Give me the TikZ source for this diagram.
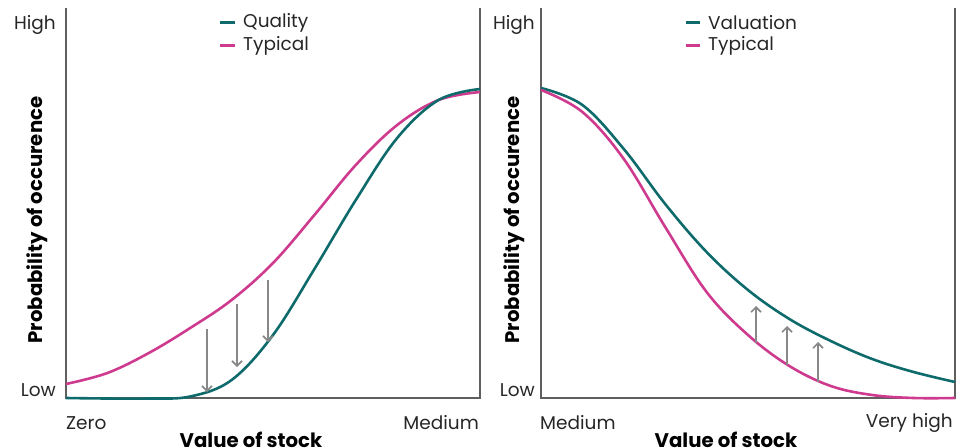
\documentclass[tikz,border=0pt]{standalone}
\usepackage{fontspec}
\setmainfont{Poppins}
\usetikzlibrary{arrows.meta}
\definecolor{teal1}{HTML}{0F6B6B}
\definecolor{mag}{HTML}{CE3A8E}
\definecolor{axisgray}{HTML}{5F5F5F}
\definecolor{arrgray}{HTML}{888888}
\tikzset{
  axisline/.style={draw=axisgray, line width=2.4pt},
  curveq/.style={draw=teal1, line width=2.6pt, line join=round},
  curvet/.style={draw=mag, line width=2.6pt, line join=round},
  shiftarrow/.style={draw=arrgray, line width=1.6pt, -{Straight Barb[length=5pt,width=10pt,line width=1.6pt]}},
  ticklbl/.style={font=\fontsize{18.5}{18.5}\selectfont, text=black!85, inner sep=0pt},
  axlbl/.style={font=\fontsize{19.7}{19.7}\selectfont\bfseries, text=black, inner sep=0pt},
  leglbl/.style={font=\fontsize{18.5}{18.5}\selectfont, text=black!85, inner sep=0pt, anchor=west},
}
\begin{document}
\begin{tikzpicture}[x=1pt,y=-1pt]
\useasboundingbox (0,0) rectangle (966,447);
% ---------- left panel ----------
\draw[axisline] (66,8) -- (66,398) -- (480,398) -- (480,8);
\draw[curvet] plot[smooth, tension=0.6] coordinates {(66,384) (107.4,373) (148.8,353) (190.2,328) (231.6,300) (273,263) (314.4,215) (355.8,165) (397.2,125) (438.6,100) (480,92)};
\draw[curveq] plot[smooth, tension=0.6] coordinates {(66,398) (107.4,398.5) (148.8,398.5) (190.2,396.5) (231.6,380) (273,335) (314.4,269) (355.8,200) (397.2,138) (438.6,100) (480,89)};
\coordinate (la1s) at (207,329); \coordinate (la1e) at (207,392);
\coordinate (la2s) at (237,304); \coordinate (la2e) at (237,367);
\coordinate (la3s) at (268,280); \coordinate (la3e) at (268,342);
\draw[shiftarrow] (la1s) -- (la1e);
\draw[shiftarrow] (la2s) -- (la2e);
\draw[shiftarrow] (la3s) -- (la3e);
\node[ticklbl, anchor=east] (lhigh) at (56,25) {High};
\node[ticklbl, anchor=east] (llow) at (56,390) {Low};
\node[ticklbl, anchor=west] (lzero) at (66,423) {Zero};
\node[ticklbl, anchor=east] (lmed) at (479,423) {Medium};
\node[axlbl] (lxl) at (251,440) {Value of stock};
\node[axlbl, rotate=90] (lyl) at (37,220) {Probability of occurence};
\draw[curveq, line width=3pt] (220,22) -- (235,22);
\node[leglbl] (lq) at (243,23) {Quality};
\draw[curvet, line width=3pt] (220,45) -- (235,45);
\node[leglbl] (lt) at (243,46) {Typical};
% ---------- right panel ----------
\draw[axisline] (541,8) -- (541,398) -- (955,398) -- (955,8);
\draw[curveq] plot[smooth, tension=0.6] coordinates {(541,88) (582.4,105) (623.8,149) (665.2,204) (706.6,252) (748,290) (789.4,319) (830.8,341) (872.2,359) (913.6,372) (955,382)};
\draw[curvet] plot[smooth, tension=0.6] coordinates {(541,90) (582.4,112) (623.8,159) (665.2,227) (706.6,292) (748,335) (789.4,366) (830.8,386) (872.2,395) (913.6,398) (955,398)};
\coordinate (ra1s) at (756,343); \coordinate (ra1e) at (756,306);
\coordinate (ra2s) at (787,365); \coordinate (ra2e) at (787,326);
\coordinate (ra3s) at (818,382); \coordinate (ra3e) at (818,342);
\draw[shiftarrow] (ra1s) -- (ra1e);
\draw[shiftarrow] (ra2s) -- (ra2e);
\draw[shiftarrow] (ra3s) -- (ra3e);
\node[ticklbl, anchor=east] (rhigh) at (535,25) {High};
\node[ticklbl, anchor=east] (rlow) at (535,390) {Low};
\node[ticklbl, anchor=west] (rmed) at (540,423) {Medium};
\node[ticklbl, anchor=east] (rvh) at (953,423) {Very high};
\node[axlbl] (rxl) at (726,440) {Value of stock};
\node[axlbl, rotate=90] (ryl) at (514,220) {Probability of occurence};
\draw[curveq, line width=3pt] (686,22) -- (700,22);
\node[leglbl] (rv) at (708,23) {Valuation};
\draw[curvet, line width=3pt] (686,45) -- (700,45);
\node[leglbl] (rt) at (708,46) {Typical};
\end{tikzpicture}
\end{document}
